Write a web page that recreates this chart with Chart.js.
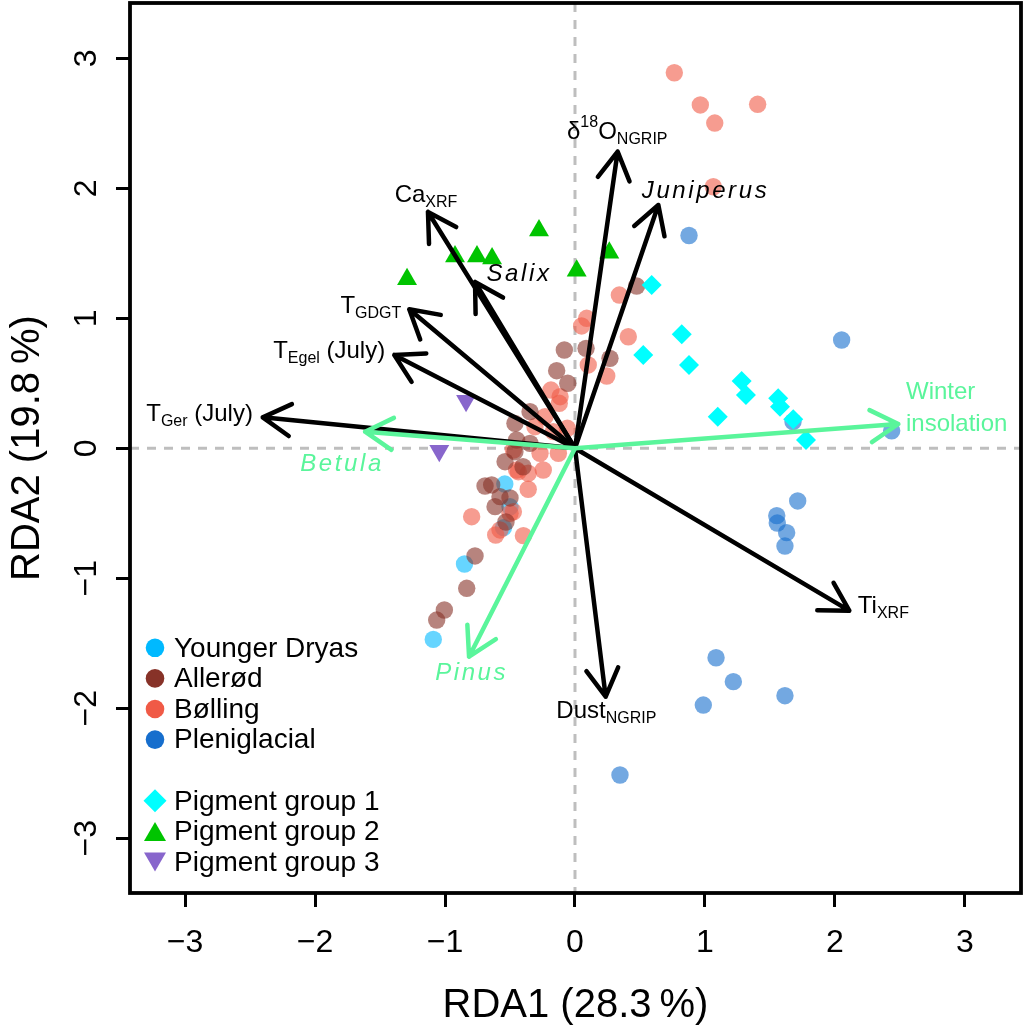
<!DOCTYPE html>
<html>
<head>
<meta charset="utf-8">
<script src="https://cdn.jsdelivr.net/npm/chart.js@4.4.1/dist/chart.umd.min.js"></script>
<style>
html,body{margin:0;padding:0;background:#fff;}
canvas{display:block;}
</style>
</head>
<body>
<canvas id="c" width="1024" height="1027"></canvas>
<script>
// ---------------- DATA ----------------
const eraNames = ['Younger Dryas', 'Allerød', 'Bølling', 'Pleniglacial'];
const pigmentNames = ['Pigment group 1', 'Pigment group 2', 'Pigment group 3'];

const youngerDryasX = [-0.54, -0.50, -0.55, -0.85, -1.09];
const youngerDryasY = [-0.275, -0.45, -0.61, -0.89, -1.47];

const allerodX = [0.474, -0.082, 0.085, 0.269, -0.141, -0.056, -0.346, -0.462, -0.449, -0.346, -0.538, -0.462, -0.40, -0.692, -0.641, -0.615, -0.577, -0.50, -0.769, -0.833, -1.005, -1.064, -0.531];
const allerodY = [1.248, 0.756, 0.769, 0.692, 0.597, 0.50, 0.282, 0.192, 0.064, 0.038, -0.103, -0.026, -0.142, -0.29, -0.282, -0.449, -0.372, -0.382, -0.828, -1.077, -1.244, -1.321, -0.567];

const bollingX = [0.764, 0.964, 1.075, 1.405, 1.064, 0.341, 0.09, 0.051, 0.41, 0.102, 0.244, -0.185, -0.115, -0.121, -0.231, -0.059, -0.308, -0.167, -0.474, -0.269, -0.128, -0.436, -0.244, -0.36, -0.36, -0.50, -0.474, -0.795, -0.61, -0.397, -0.577, -0.449];
const bollingY = [2.889, 2.641, 2.502, 2.646, 2.012, 1.179, 1.0, 0.941, 0.858, 0.641, 0.556, 0.448, 0.397, 0.346, 0.243, 0.154, 0.166, 0.128, -0.013, -0.038, -0.038, -0.18, -0.167, -0.192, -0.315, -0.50, -0.488, -0.526, -0.667, -0.672, -0.628, -0.167];

const pleniglacialX = [0.877, 2.051, 2.436, 1.677, 1.713, 1.552, 1.556, 1.628, 1.615, 1.085, 1.218, 0.987, 1.615, 0.346];
const pleniglacialY = [1.637, 0.833, 0.135, 0.205, -0.405, -0.518, -0.575, -0.649, -0.752, -1.611, -1.795, -1.975, -1.903, -2.513];

const pigment1X = [0.59, 0.821, 0.525, 0.877, 1.282, 1.315, 1.563, 1.577, 1.098, 1.679, 1.777];
const pigment1Y = [1.256, 0.877, 0.718, 0.641, 0.518, 0.41, 0.385, 0.32, 0.243, 0.223, 0.064];

const pigment2X = [-1.292, -0.923, -0.754, -0.638, -0.277, 0.013, 0.264];
const pigment2Y = [1.30, 1.475, 1.475, 1.46, 1.675, 1.365, 1.505];

const pigment3X = [-0.838, -1.044];
const pigment3Y = [0.365, -0.018];

// biplot arrows (explanatory variables, black)
const envArrowNames = ['Ca_{XRF}', 'Salix', 'T_{GDGT}', 'T_{Egel} (July)', 'T_{Ger} (July)', 'δ^{18}O_{NGRIP}', 'Juniperus', 'Ti_{XRF}', 'Dust_{NGRIP}'];
const envArrowX = [-1.131, -0.769, -1.275, -1.39, -2.402, 0.328, 0.641, 2.11, 0.236];
const envArrowY = [1.818, 1.279, 1.069, 0.718, 0.238, 2.282, 1.872, -1.249, -1.911];

// biplot arrows (green)
const greenArrowNames = ['Winter|insolation', 'Betula', 'Pinus'];
const greenArrowX = [2.487, -1.615, -0.815];
const greenArrowY = [0.187, 0.128, -1.603];

// label anchors (data units)
const envLabelX = [-1.146, -0.431, -1.570, -1.891, -2.888, 0.325, 1.004, 2.372, 0.241];
const envLabelY = [1.962, 1.356, 1.105, 0.762, 0.275, 2.442, 1.993, -1.204, -2.012];
const greenLabelX = [2.546, -1.792, -0.795];
const greenLabelY = [0.32, -0.105, -1.713];

const xTickValues = [-3, -2, -1, 0, 1, 2, 3];
const yTickValues = [-3, -2, -1, 0, 1, 2, 3];
const xTitle = 'RDA1 (28.3\u2009%)';
const yTitle = 'RDA2 (19.8\u2009%)';

// ---------------- STYLE ----------------
const FAM = '"Liberation Sans", Arial, Helvetica, sans-serif';
const italicLabels = new Set(['Salix', 'Juniperus', 'Betula', 'Pinus']);
const eraSolid = ['rgb(0,185,255)', 'rgb(135,50,40)', 'rgb(240,90,70)', 'rgb(22,110,205)'];
const eraAlpha = ['rgba(0,185,255,0.6)', 'rgba(135,50,40,0.6)', 'rgba(240,90,70,0.6)', 'rgba(22,110,205,0.6)'];
const pigmentColors = ['#00FFFF', '#00C400', '#8866CC'];
const GREEN = '#5AF59B';

const pts = (xs, ys) => xs.map((v, i) => ({x: v, y: ys[i]}));
const fmt = v => (v < 0 ? '\u2212' + Math.abs(v) : String(v));

function parseRich(s) {
  const out = [];
  const re = /([_^])\{([^}]*)\}|([^_^]+)/g;
  let m;
  while ((m = re.exec(s))) {
    if (m[3]) out.push({t: m[3], m: 'n'});
    else out.push({t: m[2], m: m[1] === '_' ? 'sub' : 'sup'});
  }
  return out;
}
function drawRich(ctx, s, cx, cy, o) {
  const size = o.size, italic = o.italic;
  const segs = parseRich(s);
  const fontFor = m => (italic ? 'italic ' : '') + (m === 'n' ? size : Math.round(size * 0.68)) + 'px ' + FAM;
  ctx.letterSpacing = italic ? '2.6px' : '0px';
  let w = 0;
  segs.forEach(g => { ctx.font = fontFor(g.m); g.w = ctx.measureText(g.t).width; w += g.w; });
  let xx = o.align === 'left' ? cx : cx - w / 2;
  const base = cy + size * 0.358;
  ctx.fillStyle = o.color;
  ctx.textAlign = 'left';
  ctx.textBaseline = 'alphabetic';
  segs.forEach(g => {
    ctx.font = fontFor(g.m);
    const dy = g.m === 'sub' ? size * 0.2 : (g.m === 'sup' ? -size * 0.5 : 0);
    ctx.fillText(g.t, xx, base + dy);
    xx += g.w;
  });
  ctx.letterSpacing = '0px';
}
function drawArrow(ctx, x0, y0, x1, y1, color) {
  const ang = Math.atan2(y1 - y0, x1 - x0), L = 32, h = Math.PI / 6;
  ctx.strokeStyle = color;
  ctx.lineWidth = 4.5;
  ctx.lineCap = 'round';
  ctx.lineJoin = 'round';
  ctx.beginPath();
  ctx.moveTo(x0, y0);
  ctx.lineTo(x1, y1);
  ctx.moveTo(x1 - L * Math.cos(ang - h), y1 - L * Math.sin(ang - h));
  ctx.lineTo(x1, y1);
  ctx.lineTo(x1 - L * Math.cos(ang + h), y1 - L * Math.sin(ang + h));
  ctx.stroke();
}
function marker(ctx, style, x, y, color) {
  ctx.fillStyle = color;
  ctx.beginPath();
  if (style === 'circle') {
    ctx.arc(x, y, 9.3, 0, Math.PI * 2);
  } else if (style === 'diamond') {
    const r = 11.5;
    ctx.moveTo(x, y - r); ctx.lineTo(x + r, y); ctx.lineTo(x, y + r); ctx.lineTo(x - r, y);
  } else if (style === 'up') {
    const w = 11, hh = 9.5;
    ctx.moveTo(x, y - hh); ctx.lineTo(x + w, y + hh); ctx.lineTo(x - w, y + hh);
  } else {
    const w = 11, hh = 9.5;
    ctx.moveTo(x, y + hh); ctx.lineTo(x + w, y - hh); ctx.lineTo(x - w, y - hh);
  }
  ctx.closePath();
  ctx.fill();
}

const rdaPlugin = {
  id: 'rda',
  beforeDatasetsDraw(chart) {
    const {ctx, chartArea: a, scales: {x, y}} = chart;
    const x0 = x.getPixelForValue(0), y0 = y.getPixelForValue(0);
    ctx.save();
    ctx.strokeStyle = '#BEBEBE';
    ctx.lineWidth = 3;
    ctx.setLineDash([9, 8]);
    ctx.beginPath();
    ctx.moveTo(x0, a.top); ctx.lineTo(x0, a.bottom);
    ctx.moveTo(a.left, y0); ctx.lineTo(a.right, y0);
    ctx.stroke();
    ctx.restore();
  },
  afterDatasetsDraw(chart) {
    const {ctx, chartArea: a, scales: {x, y}} = chart;
    const x0 = x.getPixelForValue(0), y0 = y.getPixelForValue(0);
    ctx.save();
    envArrowNames.forEach((n, i) => {
      drawArrow(ctx, x0, y0, x.getPixelForValue(envArrowX[i]), y.getPixelForValue(envArrowY[i]), '#000');
    });
    greenArrowNames.forEach((n, i) => {
      drawArrow(ctx, x0, y0, x.getPixelForValue(greenArrowX[i]), y.getPixelForValue(greenArrowY[i]), GREEN);
    });
    envArrowNames.forEach((n, i) => {
      drawRich(ctx, n, x.getPixelForValue(envLabelX[i]), y.getPixelForValue(envLabelY[i]),
        {size: 24, italic: italicLabels.has(n), color: '#000'});
    });
    greenArrowNames.forEach((n, i) => {
      const lines = n.split('|');
      const cx = x.getPixelForValue(greenLabelX[i]), cy = y.getPixelForValue(greenLabelY[i]);
      if (lines.length > 1) {
        lines.forEach((l, k) => drawRich(ctx, l, cx, cy + (k - (lines.length - 1) / 2) * 32,
          {size: 24, italic: false, color: GREEN, align: 'left'}));
      } else {
        drawRich(ctx, n, cx, cy, {size: 24, italic: italicLabels.has(n), color: GREEN});
      }
    });
    // legend
    const rows = [];
    eraNames.forEach((n, i) => rows.push({n, s: 'circle', c: eraSolid[i]}));
    rows.push(null);
    const pst = ['diamond', 'up', 'down'];
    pigmentNames.forEach((n, i) => rows.push({n, s: pst[i], c: pigmentColors[i]}));
    const lx = a.left + 25, tx = a.left + 44, step = 30.6;
    const lastY = a.bottom - 31;
    rows.forEach((r, k) => {
      if (!r) return;
      const ry = lastY - (rows.length - 1 - k) * step;
      marker(ctx, r.s, lx, ry, r.c);
      ctx.fillStyle = '#000';
      ctx.font = '28px ' + FAM;
      ctx.textAlign = 'left';
      ctx.textBaseline = 'middle';
      ctx.fillText(r.n, tx, ry + 1);
    });
    ctx.restore();
  },
  afterDraw(chart) {
    const {ctx, chartArea: a} = chart;
    ctx.save();
    ctx.strokeStyle = '#000';
    ctx.lineWidth = 3.8;
    ctx.strokeRect(a.left, a.top, a.right - a.left, a.bottom - a.top);
    ctx.restore();
  }
};

function build() {
  const ctx = document.getElementById('c').getContext('2d');
  new Chart(ctx, {
    type: 'scatter',
    data: {
      datasets: [
        {label: eraNames[3], data: pts(pleniglacialX, pleniglacialY), backgroundColor: eraAlpha[3], pointStyle: 'circle', pointRadius: 8.7, borderWidth: 0, order: 6},
        {label: eraNames[0], data: pts(youngerDryasX, youngerDryasY), backgroundColor: eraAlpha[0], pointStyle: 'circle', pointRadius: 8.7, borderWidth: 0, order: 5},
        {label: eraNames[2], data: pts(bollingX, bollingY), backgroundColor: eraAlpha[2], pointStyle: 'circle', pointRadius: 8.7, borderWidth: 0, order: 4},
        {label: eraNames[1], data: pts(allerodX, allerodY), backgroundColor: eraAlpha[1], pointStyle: 'circle', pointRadius: 8.7, borderWidth: 0, order: 3},
        {label: pigmentNames[0], data: pts(pigment1X, pigment1Y), backgroundColor: pigmentColors[0], pointStyle: 'rectRot', pointRadius: 10, borderWidth: 0, order: 2},
        {label: pigmentNames[1], data: pts(pigment2X, pigment2Y), backgroundColor: pigmentColors[1], pointStyle: 'triangle', pointRadius: 11.5, borderWidth: 0, order: 1},
        {label: pigmentNames[2], data: pts(pigment3X, pigment3Y), backgroundColor: pigmentColors[2], pointStyle: 'triangle', pointRotation: 180, pointRadius: 11.5, borderWidth: 0, order: 0}
      ]
    },
    options: {
      responsive: false,
      animation: false,
      devicePixelRatio: 1,
      events: [],
      layout: {autoPadding: false, padding: {top: 3, right: 3, left: 0, bottom: 0}},
      plugins: {legend: {display: false}, tooltip: {enabled: false}},
      scales: {
        x: {
          type: 'linear', position: 'bottom', min: -3.4231, max: 3.4308,
          afterBuildTicks: s => { s.ticks = xTickValues.map(v => ({value: v})); },
          afterFit: s => { s.height = 134; s.paddingLeft = 0; s.paddingRight = 0; },
          ticks: {font: {family: FAM, size: 32}, color: '#000', padding: 16.5, callback: fmt, autoSkip: false, maxRotation: 0, minRotation: 0},
          grid: {display: true, drawOnChartArea: false, drawTicks: true, tickLength: 14, tickWidth: 3, tickColor: '#000', color: '#000'},
          border: {display: false},
          title: {display: true, text: xTitle, color: '#000', font: {family: FAM, size: 40, lineHeight: 1}, padding: {top: 0, bottom: 1}}
        },
        y: {
          type: 'linear', position: 'left', min: -3.4208, max: 3.4254,
          afterBuildTicks: s => { s.ticks = yTickValues.map(v => ({value: v})); },
          afterFit: s => { s.width = 130; s.paddingTop = 0; s.paddingBottom = 0; },
          ticks: {font: {family: FAM, size: 32}, color: '#000', padding: 10.75, callback: fmt, autoSkip: false, minRotation: 90, maxRotation: 90, crossAlign: 'center'},
          grid: {display: true, drawOnChartArea: false, drawTicks: true, tickLength: 14, tickWidth: 3, tickColor: '#000', color: '#000'},
          border: {display: false},
          title: {display: true, text: yTitle, color: '#000', font: {family: FAM, size: 40, lineHeight: 1}, padding: {top: 8, bottom: 0}}
        }
      }
    },
    plugins: [rdaPlugin]
  });
}
Promise.all([
  document.fonts.load('24px "Liberation Sans"'),
  document.fonts.load('italic 24px "Liberation Sans"')
]).catch(() => {}).then(build);
</script>
</body>
</html>
